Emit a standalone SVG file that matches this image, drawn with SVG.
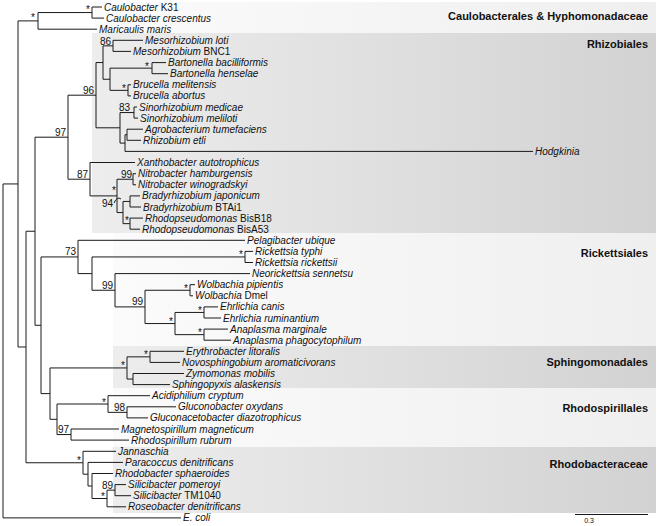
<svg xmlns="http://www.w3.org/2000/svg" width="661" height="526" viewBox="0 0 661 526">
<style>
.br{fill:none;stroke:#1a1a1a;stroke-width:1}
.tx{font-family:"Liberation Sans",Arial,sans-serif;font-size:10px;fill:#111}
.it{font-style:italic}
.up{font-style:normal}
.sp{font-family:"Liberation Sans",Arial,sans-serif;font-size:10px;fill:#111}
.gl{font-family:"Liberation Sans",Arial,sans-serif;font-size:11px;font-weight:bold;fill:#111;text-anchor:end}
</style>
<defs>
<linearGradient id="gDark" x1="0" y1="0" x2="1" y2="0">
<stop offset="0" stop-color="#ededed"/><stop offset="1" stop-color="#d2d2d2"/>
</linearGradient>
<linearGradient id="gLight" x1="0" y1="0" x2="1" y2="0">
<stop offset="0" stop-color="#fbfbfb"/><stop offset="1" stop-color="#efefef"/>
</linearGradient>
</defs>
<rect width="661" height="526" fill="#fff"/>
<g id="bands">
<rect x="95" y="2" width="561" height="31" fill="url(#gLight)"/>
<rect x="92" y="33" width="564" height="200" fill="url(#gDark)"/>
<rect x="113" y="233" width="543" height="113" fill="url(#gLight)"/>
<rect x="113" y="346" width="543" height="42" fill="url(#gDark)"/>
<rect x="113" y="388" width="543" height="59" fill="url(#gLight)"/>
<rect x="113" y="447" width="543" height="66" fill="url(#gDark)"/>
</g>
<g id="group-labels">
<text class="gl" x="648" y="20">Caulobacterales &amp; Hyphomonadaceae</text>
<text class="gl" x="648" y="48">Rhizobiales</text>
<text class="gl" x="648" y="257">Rickettsiales</text>
<text class="gl" x="648" y="366">Sphingomonadales</text>
<text class="gl" x="648" y="412">Rhodospirillales</text>
<text class="gl" x="648" y="468">Rhodobacteraceae</text>
</g>
<g id="connectors" class="br">
<!-- root and backbone -->
<path d="M3,183.95V517.9M3,517.9H181M3,183.95H18"/>
<path d="M18,20.9V347M18,20.9H38M18,347H26"/>
<path d="M38,12.55V29.2M38,12.55H92M38,29.2H97"/>
<path d="M92,7V18.1M92,7H102M92,18.1H104"/>
<path d="M26,231.25V462.75M26,231.25H35M26,462.75H83"/>
<path d="M35,137.2V325.3M35,137.2H68M35,325.3H41"/>
<!-- Rhizobiales -->
<path d="M68,95.2V179.2M68,95.2H96M68,179.2H90"/>
<path d="M96,62.55V127.8M96,62.55H103M96,127.8H120"/>
<path d="M103,45.85V79.25M103,45.85H113M103,79.25H110"/>
<path d="M113,40.3V51.4M113,40.3H143M113,51.4H131"/>
<path d="M110,68.15V90.35M110,68.15H152M110,90.35H128"/>
<path d="M152,62.6V73.7M152,62.6H166M152,73.7H168"/>
<path d="M128,84.8V95.9M128,84.8H131M128,95.9H131"/>
<path d="M120,112.55V143.1M120,112.55H134M120,143.1H125"/>
<path d="M134,107V118.1M134,107H137M134,118.1H138"/>
<path d="M125,134.75V151.4M125,134.75H127M125,151.4H533"/>
<path d="M127,129.2V140.3M127,129.2H143M127,140.3H141"/>
<path d="M90,162.5V195.9M90,162.5H135M90,195.9H117"/>
<path d="M117,179.25V212.55M117,179.25H133M117,212.55H123"/>
<path d="M133,173.7V184.8M133,173.7H136M133,184.8H136"/>
<path d="M123,201.45V223.65M123,201.45H130M123,223.65H130"/>
<path d="M130,195.9V207M130,195.9H140M130,207H141"/>
<path d="M130,218.1V229.2M130,218.1H143M130,229.2H140"/>
<path d="M114,203Q117,196 121,199"/>
<!-- Rickettsiales + others -->
<path d="M41,256.95V393.6M41,256.95H78M41,393.6H50"/>
<path d="M78,240.3V273.6M78,240.3H245M78,273.6H92"/>
<path d="M92,256.95V290.25M92,256.95H245M92,290.25H115"/>
<path d="M245,251.4V262.5M245,251.4H253M245,262.5H253"/>
<path d="M115,273.6V306.9M115,273.6H250M115,306.9H145"/>
<path d="M145,290.25V323.55M145,290.25H190M145,323.55H175"/>
<path d="M190,284.7V295.8M190,284.7H195M190,295.8H193"/>
<path d="M175,312.45V334.65M175,312.45H204M175,334.65H204"/>
<path d="M204,306.9V318M204,306.9H218M204,318H221"/>
<path d="M204,329.1V340.2M204,329.1H228M204,340.2H231"/>
<!-- Sphingomonadales / Rhodospirillales -->
<path d="M50,367.95V419.3M50,367.95H127M50,419.3H57"/>
<path d="M127,356.85V379.05M127,356.85H150M127,379.05H133"/>
<path d="M150,351.3V362.4M150,351.3H184M150,362.4H180"/>
<path d="M133,373.5V384.6M133,373.5H184M133,384.6H170"/>
<path d="M57,404V434.55M57,404H108M57,434.55H71"/>
<path d="M108,395.7V412.35M108,395.7H150M108,412.35H127"/>
<path d="M127,406.8V417.9M127,406.8H176M127,417.9H148"/>
<path d="M71,429V440.1M71,429H119M71,440.1H129"/>
<!-- Rhodobacteraceae -->
<path d="M83,451.3V474.2M83,451.3H116M83,474.2H88"/>
<path d="M88,462.4V486M88,462.4H123M88,486H92"/>
<path d="M92,473.5V498.5M92,473.5H113M92,498.5H107"/>
<path d="M107,490.15V506.8M107,490.15H115M107,506.8H126"/>
<path d="M115,484.6V495.7M115,484.6H126M115,495.7H131"/>
<!-- scale bar -->
<path d="M575,514.5H648"/>
</g>
<g id="support" class="sp">
<text x="33" y="21" text-anchor="middle">*</text>
<text x="88" y="13" text-anchor="middle">*</text>
<text x="111" y="44.5" text-anchor="end">86</text>
<text x="147" y="69.5" text-anchor="middle">*</text>
<text x="124" y="91.5" text-anchor="middle">*</text>
<text x="94" y="93.5" text-anchor="end">96</text>
<text x="130" y="111" text-anchor="end">83</text>
<text x="66" y="135.5" text-anchor="end">97</text>
<text x="88" y="177.5" text-anchor="end">87</text>
<text x="132" y="177.5" text-anchor="end">99</text>
<text x="114" y="194" text-anchor="middle">*</text>
<text x="113" y="206.5" text-anchor="end">94</text>
<text x="127" y="224" text-anchor="middle">*</text>
<text x="76" y="255" text-anchor="end">73</text>
<text x="241" y="258" text-anchor="middle">*</text>
<text x="113" y="288.5" text-anchor="end">99</text>
<text x="143" y="305" text-anchor="end">99</text>
<text x="186" y="292" text-anchor="middle">*</text>
<text x="171" y="325" text-anchor="middle">*</text>
<text x="200" y="314" text-anchor="middle">*</text>
<text x="200" y="336" text-anchor="middle">*</text>
<text x="123" y="369" text-anchor="middle">*</text>
<text x="146" y="358" text-anchor="middle">*</text>
<text x="104" y="405.5" text-anchor="middle">*</text>
<text x="125" y="411" text-anchor="end">98</text>
<text x="69" y="433" text-anchor="end">97</text>
<text x="79" y="464" text-anchor="middle">*</text>
<text x="113" y="488.5" text-anchor="end">89</text>
<text x="103" y="500" text-anchor="middle">*</text>
</g>
<g id="leaves" class="tx it">
<g id="n-caulo-k31"><text x="104" y="10.5">Caulobacter <tspan class="up">K31</tspan></text></g>
<g id="n-caulo-cres"><text x="106" y="21.6">Caulobacter crescentus</text></g>
<g id="n-maricaulis"><text x="99" y="32.7">Maricaulis maris</text></g>
<g id="n-meso-loti"><text x="145" y="43.8">Mesorhizobium loti</text></g>
<g id="n-meso-bnc1"><text x="133" y="54.9">Mesorhizobium <tspan class="up">BNC1</tspan></text></g>
<g id="n-bart-bac"><text x="168" y="66.1">Bartonella bacilliformis</text></g>
<g id="n-bart-hen"><text x="170" y="77.2">Bartonella henselae</text></g>
<g id="n-bru-mel"><text x="133" y="88.3">Brucella melitensis</text></g>
<g id="n-bru-abo"><text x="133" y="99.4">Brucella abortus</text></g>
<g id="n-sino-med"><text x="139" y="110.5">Sinorhizobium medicae</text></g>
<g id="n-sino-mel"><text x="140" y="121.6">Sinorhizobium meliloti</text></g>
<g id="n-agro"><text x="145" y="132.7">Agrobacterium tumefaciens</text></g>
<g id="n-rhizo-etli"><text x="143" y="143.8">Rhizobium etli</text></g>
<g id="n-hodgkinia"><text x="535" y="154.9">Hodgkinia</text></g>
<g id="n-xantho"><text x="137" y="166">Xanthobacter autotrophicus</text></g>
<g id="n-nitro-ham"><text x="138" y="177.2">Nitrobacter hamburgensis</text></g>
<g id="n-nitro-win"><text x="138" y="188.3">Nitrobacter winogradskyi</text></g>
<g id="n-brady-jap"><text x="142" y="199.4">Bradyrhizobium japonicum</text></g>
<g id="n-brady-btai1"><text x="143" y="210.5">Bradyrhizobium <tspan class="up">BTAi1</tspan></text></g>
<g id="n-rhodop-b18"><text x="145" y="221.6">Rhodopseudomonas <tspan class="up">BisB18</tspan></text></g>
<g id="n-rhodop-a53"><text x="142" y="232.7">Rhodopseudomonas <tspan class="up">BisA53</tspan></text></g>
<g id="n-pelagi"><text x="247" y="243.8">Pelagibacter ubique</text></g>
<g id="n-rick-typ"><text x="255" y="254.9">Rickettsia typhi</text></g>
<g id="n-rick-ric"><text x="255" y="266">Rickettsia rickettsii</text></g>
<g id="n-neorick"><text x="252" y="277.1">Neorickettsia sennetsu</text></g>
<g id="n-wolb-pip"><text x="197" y="288.2">Wolbachia pipientis</text></g>
<g id="n-wolb-dmel"><text x="195" y="299.3">Wolbachia <tspan class="up">Dmel</tspan></text></g>
<g id="n-ehr-can"><text x="220" y="310.4">Ehrlichia canis</text></g>
<g id="n-ehr-rum"><text x="223" y="321.5">Ehrlichia ruminantium</text></g>
<g id="n-ana-mar"><text x="230" y="332.6">Anaplasma marginale</text></g>
<g id="n-ana-pha"><text x="233" y="343.7">Anaplasma phagocytophilum</text></g>
<g id="n-erythro"><text x="186" y="354.8">Erythrobacter litoralis</text></g>
<g id="n-novo"><text x="182" y="365.9">Novosphingobium aromaticivorans</text></g>
<g id="n-zymo"><text x="186" y="377">Zymomonas mobilis</text></g>
<g id="n-sphingopyxis"><text x="172" y="388.1">Sphingopyxis alaskensis</text></g>
<g id="n-acidi"><text x="152" y="399.2">Acidiphilium cryptum</text></g>
<g id="n-glucono"><text x="178" y="410.3">Gluconobacter oxydans</text></g>
<g id="n-gluconaceto"><text x="150" y="421.4">Gluconacetobacter diazotrophicus</text></g>
<g id="n-magneto"><text x="121" y="432.5">Magnetospirillum magneticum</text></g>
<g id="n-rhodospir"><text x="131" y="443.6">Rhodospirillum rubrum</text></g>
<g id="n-jannaschia"><text x="118" y="454.8">Jannaschia</text></g>
<g id="n-paracoccus"><text x="125" y="465.9">Paracoccus denitrificans</text></g>
<g id="n-rhodobacter"><text x="115" y="477">Rhodobacter sphaeroides</text></g>
<g id="n-sili-pom"><text x="128" y="488.1">Silicibacter pomeroyi</text></g>
<g id="n-sili-tm"><text x="133" y="499.2">Silicibacter <tspan class="up">TM1040</tspan></text></g>
<g id="n-roseo"><text x="128" y="510.3">Roseobacter denitrificans</text></g>
<g id="n-ecoli"><text x="183" y="521.4">E. coli</text></g>
</g>
<g id="scale"><text x="589" y="523" text-anchor="middle" style="font-family:'Liberation Sans',Arial,sans-serif;font-size:7px;fill:#111">0.3</text></g>
</svg>
